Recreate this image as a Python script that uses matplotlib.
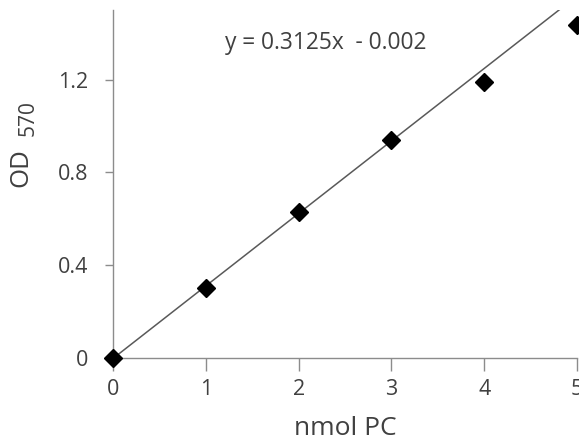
import numpy as np
import matplotlib
matplotlib.use("Agg")
import matplotlib.pyplot as plt

plt.rcParams["font.family"] = ["Open Sans", "DejaVu Sans"]

# data
nmol_pc = [0, 1, 2, 3, 4, 5]
od_570 = [0.0, 0.30, 0.63, 0.94, 1.19, 1.435]
slope = 0.3125
intercept = -0.002
x_ticks = [0, 1, 2, 3, 4, 5]
y_ticks = [0, 0.4, 0.8, 1.2]
y_tick_labels = ["0", "0.4", "0.8", "1.2"]

text_col = "#404040"
axis_col = "#8c8c8c"
W, H = 579, 441

fig = plt.figure(figsize=(W / 100, H / 100), dpi=100)
ax = fig.add_axes([113 / W, 83 / H, 464 / W, 348 / H])

fit_x = np.array([0, 5])
ax.plot(fit_x, slope * fit_x + intercept, color="#595959", lw=1.1, zorder=2)
ax.plot(nmol_pc, od_570, linestyle="none", marker="D", ms=9.5,
        color="black", clip_on=False, zorder=3)

ax.set_xlim(0, 5)
ax.set_ylim(0, 1.5)
ax.set_xticks(x_ticks)
ax.set_yticks(y_ticks)
ax.set_yticklabels(y_tick_labels)

for side in ["top", "right"]:
    ax.spines[side].set_visible(False)
for side in ["left", "bottom"]:
    ax.spines[side].set_color(axis_col)
    ax.spines[side].set_linewidth(1.0)

ax.tick_params(axis="both", direction="out", width=1.0,
               color=axis_col, labelcolor=text_col, labelsize=15.5)
ax.tick_params(axis="x", length=9, pad=6)
ax.tick_params(axis="y", length=6, pad=12)

ax.set_xlabel("nmol PC", fontsize=19, color=text_col)
ax.xaxis.set_label_coords(0.5, -0.168)

# y label: "OD" with a lowered "570"
fig.text(21 / W, 1 - 168 / H, "OD", rotation=90, fontsize=18.5,
         color=text_col, ha="center", va="center")
fig.text(28 / W, 1 - 118 / H, "570", rotation=90, fontsize=15,
         color=text_col, ha="center", va="center")

fig.text(225 / W, 1 - 43 / H, "y = 0.3125x  - 0.002",
         fontsize=16.4, color=text_col, ha="left", va="center")

fig.savefig("out.png", dpi=100)
